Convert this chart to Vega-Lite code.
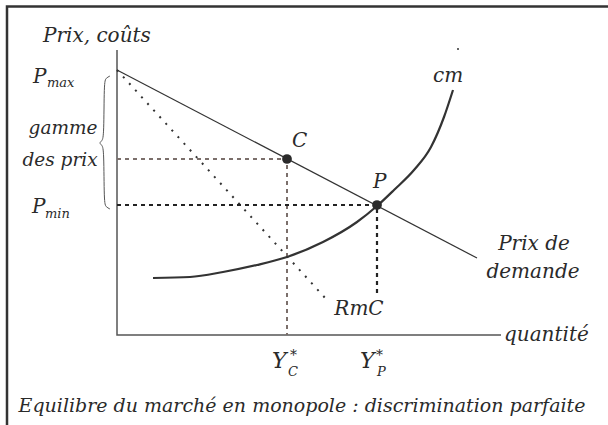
{
  "$schema": "https://vega.github.io/schema/vega-lite/v6.json",
  "width": 608,
  "height": 425,
  "padding": 0,
  "autosize": {"type": "none"},
  "background": "white",
  "config": {"view": {"stroke": null}},
  "datasets": {
    "paths": [
      {"s": "frame", "o": 1, "q": -110, "p": -92},
      {"s": "frame", "o": 2, "q": -110, "p": 328.5},
      {"s": "frame", "o": 3, "q": 493, "p": 328.5},
      {"s": "axes", "o": 1, "q": 0, "p": 285},
      {"s": "axes", "o": 2, "q": 0, "p": 0},
      {"s": "axes", "o": 3, "q": 384, "p": 0},
      {"s": "demand", "o": 1, "q": 0, "p": 265},
      {"s": "demand", "o": 2, "q": 360, "p": 77},
      {"s": "rmc", "o": 1, "q": 0, "p": 265},
      {"s": "rmc", "o": 2, "q": 210, "p": 35},
      {"s": "guideC", "o": 1, "q": 0, "p": 176},
      {"s": "guideC", "o": 2, "q": 170, "p": 176},
      {"s": "guideC", "o": 3, "q": 170, "p": 0},
      {"s": "guideP", "o": 1, "q": 0, "p": 130},
      {"s": "guideP", "o": 2, "q": 260, "p": 130},
      {"s": "guideP", "o": 3, "q": 260, "p": 42},
      {"s": "brace", "o": 1, "q": -7, "p": 259},
      {"s": "brace", "o": 2, "q": -11, "p": 257},
      {"s": "brace", "o": 3, "q": -13, "p": 253},
      {"s": "brace", "o": 4, "q": -13, "p": 199},
      {"s": "brace", "o": 5, "q": -15, "p": 194},
      {"s": "brace", "o": 6, "q": -18, "p": 192},
      {"s": "brace", "o": 7, "q": -15, "p": 190},
      {"s": "brace", "o": 8, "q": -13, "p": 185},
      {"s": "brace", "o": 9, "q": -13, "p": 132},
      {"s": "brace", "o": 10, "q": -11, "p": 128},
      {"s": "brace", "o": 11, "q": -7, "p": 126}
    ],
    "cm": [
      {"q": 36, "p": 57},
      {"q": 73, "p": 58},
      {"q": 106, "p": 63},
      {"q": 140, "p": 70},
      {"q": 170, "p": 78},
      {"q": 206, "p": 93},
      {"q": 240, "p": 113},
      {"q": 260, "p": 129},
      {"q": 277, "p": 145},
      {"q": 297, "p": 165},
      {"q": 314, "p": 188},
      {"q": 327, "p": 218},
      {"q": 336, "p": 245}
    ],
    "points": [
      {"name": "C", "q": 170, "p": 176},
      {"name": "P", "q": 260, "p": 130}
    ],
    "labelsLeft": [
      {"t": "Prix, coûts", "q": -74, "p": 293},
      {"t": "P", "q": -84, "p": 252},
      {"t": "P", "q": -85, "p": 122},
      {"t": "C", "q": 175, "p": 188},
      {"t": "P", "q": 256, "p": 147},
      {"t": "cm", "q": 316, "p": 253},
      {"t": "quantité", "q": 387, "p": -6}
    ],
    "ys": [
      {"t": "Y", "q": 155, "p": -33},
      {"t": "Y", "q": 243, "p": -33}
    ],
    "labelsCenter": [
      {"t": "Prix de", "q": 417, "p": 85},
      {"t": "demande", "q": 416, "p": 57},
      {"t": "RmC", "q": 242, "p": 20}
    ],
    "braceText": [
      {"t": "gamme", "q": -54, "p": 201},
      {"t": "des prix", "q": -57, "p": 169}
    ],
    "subs": [
      {"t": "max", "q": -70, "p": 248},
      {"t": "min", "q": -72, "p": 117},
      {"t": "C", "q": 171, "p": -41},
      {"t": "P", "q": 260, "p": -41}
    ],
    "sups": [
      {"t": "*", "q": 173, "p": -25},
      {"t": "*", "q": 259, "p": -25}
    ],
    "caption": [
      {"t": "Equilibre du marché en monopole : discrimination parfaite", "q": 185, "p": -77}
    ]
  },
  "encoding": {
    "x": {"field": "q", "type": "quantitative", "axis": null,
          "scale": {"domain": [-117, 491], "nice": false, "zero": false}},
    "y": {"field": "p", "type": "quantitative", "axis": null,
          "scale": {"domain": [-90, 335], "nice": false, "zero": false}}
  },
  "layer": [
    {"data": {"name": "paths"}, "transform": [{"filter": "datum.s === 'frame'"}],
     "mark": {"type": "line", "stroke": "#333", "strokeWidth": 2.5},
     "encoding": {"order": {"field": "o", "type": "quantitative"}}},
    {"data": {"name": "paths"}, "transform": [{"filter": "datum.s === 'axes'"}],
     "mark": {"type": "line", "stroke": "#555", "strokeWidth": 1.5},
     "encoding": {"order": {"field": "o", "type": "quantitative"}}},
    {"data": {"name": "paths"}, "transform": [{"filter": "datum.s === 'demand'"}],
     "mark": {"type": "line", "stroke": "#333", "strokeWidth": 1.2},
     "encoding": {"order": {"field": "o", "type": "quantitative"}}},
    {"data": {"name": "paths"}, "transform": [{"filter": "datum.s === 'rmc'"}],
     "mark": {"type": "line", "stroke": "#333", "strokeWidth": 2, "strokeDash": [2, 7]},
     "encoding": {"order": {"field": "o", "type": "quantitative"}}},
    {"data": {"name": "paths"}, "transform": [{"filter": "datum.s === 'guideC'"}],
     "mark": {"type": "line", "stroke": "#7b6f6b", "strokeWidth": 2, "strokeDash": [4, 4]},
     "encoding": {"order": {"field": "o", "type": "quantitative"}}},
    {"data": {"name": "paths"}, "transform": [{"filter": "datum.s === 'guideP'"}],
     "mark": {"type": "line", "stroke": "#222", "strokeWidth": 2.2, "strokeDash": [4, 4]},
     "encoding": {"order": {"field": "o", "type": "quantitative"}}},
    {"data": {"name": "paths"}, "transform": [{"filter": "datum.s === 'brace'"}],
     "mark": {"type": "line", "stroke": "#555", "strokeWidth": 1, "interpolate": "basis"},
     "encoding": {"order": {"field": "o", "type": "quantitative"}}},
    {"data": {"name": "cm"},
     "mark": {"type": "line", "stroke": "#333", "strokeWidth": 2.2, "interpolate": "monotone"},
     "encoding": {}},
    {"data": {"values": [{"q": 341, "p": 286}]},
     "mark": {"type": "circle", "color": "#333", "size": 4, "opacity": 1}},
    {"data": {"name": "points"},
     "mark": {"type": "circle", "color": "#2a2a2a", "size": 95, "opacity": 1}},
    {"data": {"name": "labelsLeft"},
     "mark": {"type": "text", "font": "DejaVu Serif", "fontStyle": "italic", "fontSize": 20, "align": "left", "baseline": "alphabetic", "color": "#2a2a2a"},
     "encoding": {"text": {"field": "t"}}},
    {"data": {"name": "ys"},
     "mark": {"type": "text", "font": "DejaVu Serif", "fontStyle": "italic", "fontSize": 22, "align": "left", "baseline": "alphabetic", "color": "#2a2a2a"},
     "encoding": {"text": {"field": "t"}}},
    {"data": {"name": "labelsCenter"},
     "mark": {"type": "text", "font": "DejaVu Serif", "fontStyle": "italic", "fontSize": 20, "align": "center", "baseline": "alphabetic", "color": "#2a2a2a"},
     "encoding": {"text": {"field": "t"}}},
    {"data": {"name": "braceText"},
     "mark": {"type": "text", "font": "DejaVu Serif", "fontStyle": "italic", "fontSize": 18.5, "align": "center", "baseline": "alphabetic", "color": "#2a2a2a"},
     "encoding": {"text": {"field": "t"}}},
    {"data": {"name": "subs"},
     "mark": {"type": "text", "font": "DejaVu Serif", "fontStyle": "italic", "fontSize": 13, "align": "left", "baseline": "alphabetic", "color": "#2a2a2a"},
     "encoding": {"text": {"field": "t"}}},
    {"data": {"name": "sups"},
     "mark": {"type": "text", "font": "DejaVu Serif", "fontStyle": "normal", "fontSize": 14, "align": "left", "baseline": "alphabetic", "color": "#2a2a2a"},
     "encoding": {"text": {"field": "t"}}},
    {"data": {"name": "caption"},
     "mark": {"type": "text", "font": "DejaVu Serif", "fontStyle": "italic", "fontSize": 19, "align": "center", "baseline": "alphabetic", "color": "#2a2a2a"},
     "encoding": {"text": {"field": "t"}}}
  ]
}
